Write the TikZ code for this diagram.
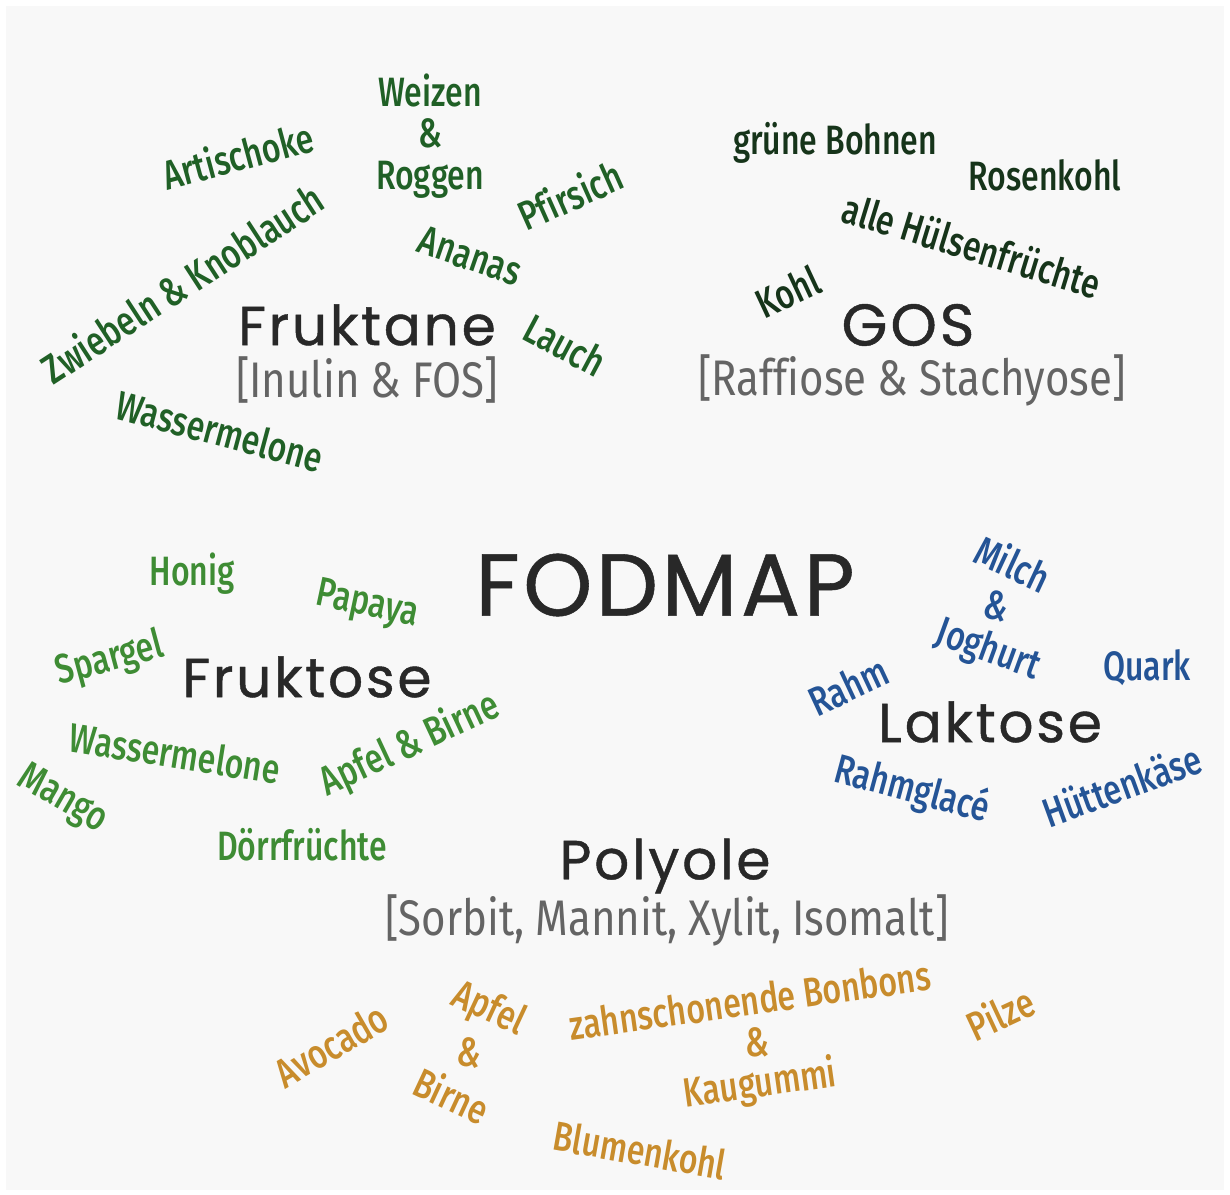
\documentclass[tikz,border=0pt]{standalone}
\usepackage{fontspec}
\newfontfamily\headfont[LetterSpace=5,FakeBold=0.8]{Poppins}
\newfontfamily\bigfont[LetterSpace=4,FakeBold=0.6]{Poppins}
\newfontfamily\itemfont[FakeStretch=0.78,UprightFont=* Medium,Ligatures=NoCommon]{Fira Sans}
\newfontfamily\subfont[FakeStretch=0.84,Ligatures=NoCommon]{Fira Sans}
\definecolor{bg}{RGB}{248,248,248}
\definecolor{head}{RGB}{40,40,40}
\definecolor{sub}{RGB}{100,100,100}
\definecolor{frk}{RGB}{32,96,38}
\definecolor{gos}{RGB}{22,52,26}
\definecolor{fru}{RGB}{62,140,52}
\definecolor{lak}{RGB}{36,84,150}
\definecolor{pol}{RGB}{200,140,44}
\tikzset{
  x=1pt,y=-1pt,
  item/.style={font=\itemfont\fontsize{41}{41}\selectfont, inner sep=0pt},
  headA/.style={font=\headfont\fontsize{55}{55}\selectfont, text=head, inner sep=0pt},
  headB/.style={font=\bigfont\fontsize{88}{88}\selectfont, text=head, inner sep=0pt},
  subl/.style={font=\subfont\fontsize{50}{50}\selectfont, text=sub, inner sep=0pt},
}
\begin{document}
\begin{tikzpicture}
\useasboundingbox (0,0) rectangle (1230,1194);
\fill[white] (0,0) rectangle (1230,1194);
\fill[bg] (6,6) rectangle (1224,1190);
% central
\node[headB] (fodmap) at (665,585) {FODMAP};
% Fruktane
\node[headA] (fruktane) at (367,325) {Fruktane};
\node[subl] (inulin) at (367,380) {[Inulin \& FOS]};
\node[item,text=frk] (weizen) at (430,90) {Weizen};
\node[item,text=frk] (amp1) at (430,133) {\&};
\node[item,text=frk] (roggen) at (430,180) {Roggen};
\node[item,text=frk,rotate=15] (artischoke) at (238,155) {Artischoke};
\node[item,text=frk,rotate=24] (pfirsich) at (570,195) {Pfirsich};
\node[item,text=frk,rotate=33] (zwiebeln) at (182,283) {Zwiebeln \& Knoblauch};
\node[item,text=frk,rotate=-19] (ananas) at (470,256) {Ananas};
\node[item,text=frk,rotate=-28] (lauch) at (565,345) {Lauch};
\node[item,text=frk,rotate=-15] (wasser1) at (220,431) {Wassermelone};
% GOS
\node[headA,font=\headfont\fontsize{59}{59}\selectfont] (gos) at (908,325) {GOS};
\node[subl] (raff) at (912,380) {[Raffiose \& Stachyose]};
\node[item,text=gos] (bohnen) at (835,143) {grüne Bohnen};
\node[item,text=gos] (rosenkohl) at (1045,175) {Rosenkohl};
\node[item,text=gos,rotate=-17] (huelsen) at (972,245) {alle Hülsenfrüchte};
\node[item,text=gos,rotate=25] (kohl) at (788,292) {Kohl};
% Fruktose
\node[headA] (fruktose) at (307,677) {Fruktose};
\node[item,text=fru] (honig) at (192,574) {Honig};
\node[item,text=fru,rotate=-12] (papaya) at (367,606) {Papaya};
\node[item,text=fru,rotate=15] (spargel) at (110,660) {Spargel};
\node[item,text=fru,rotate=-9] (wasser2) at (175,753) {Wassermelone};
\node[item,text=fru,rotate=25] (apfel1) at (410,745) {Apfel \& Birne};
\node[item,text=fru,rotate=-30] (mango) at (62,800) {Mango};
\node[item,text=fru] (doerr) at (302,845) {Dörrfrüchte};
% Laktose
\node[headA] (laktose) at (990,722) {Laktose};
\node[item,text=lak,rotate=-25] (milch) at (1013,563) {Milch};
\node[item,text=lak,rotate=-15] (amp2) at (997,606) {\&};
\node[item,text=lak,rotate=-20] (joghurt) at (988,651) {Joghurt};
\node[item,text=lak] (quark) at (1147,668) {Quark};
\node[item,text=lak,rotate=25] (rahm) at (848,686) {Rahm};
\node[item,text=lak,rotate=-15] (rahmglace) at (912,790) {Rahmglacé};
\node[item,text=lak,rotate=20] (huette) at (1122,785) {Hüttenkäse};
% Polyole
\node[headA] (polyole) at (665,866) {Polyole};
\node[subl] (sorbit) at (667,920) {[Sorbit, Mannit, Xylit, Isomalt]};
\node[item,text=pol,rotate=30] (avocado) at (331,1045) {Avocado};
\node[item,text=pol,rotate=-25] (apfel2) at (488,1010) {Apfel};
\node[item,text=pol,rotate=-10] (amp3) at (470,1053) {\&};
\node[item,text=pol,rotate=-25] (birne) at (452,1095) {Birne};
\node[item,text=pol,rotate=8] (bonbons) at (750,1000) {zahnschonende Bonbons};
\node[item,text=pol] (amp4) at (757,1042) {\&};
\node[item,text=pol,rotate=8] (kaugummi) at (760,1085) {Kaugummi};
\node[item,text=pol,rotate=25] (pilze) at (1000,1013) {Pilze};
\node[item,text=pol,rotate=-10] (blumenkohl) at (640,1150) {Blumenkohl};
\end{tikzpicture}
\end{document}
